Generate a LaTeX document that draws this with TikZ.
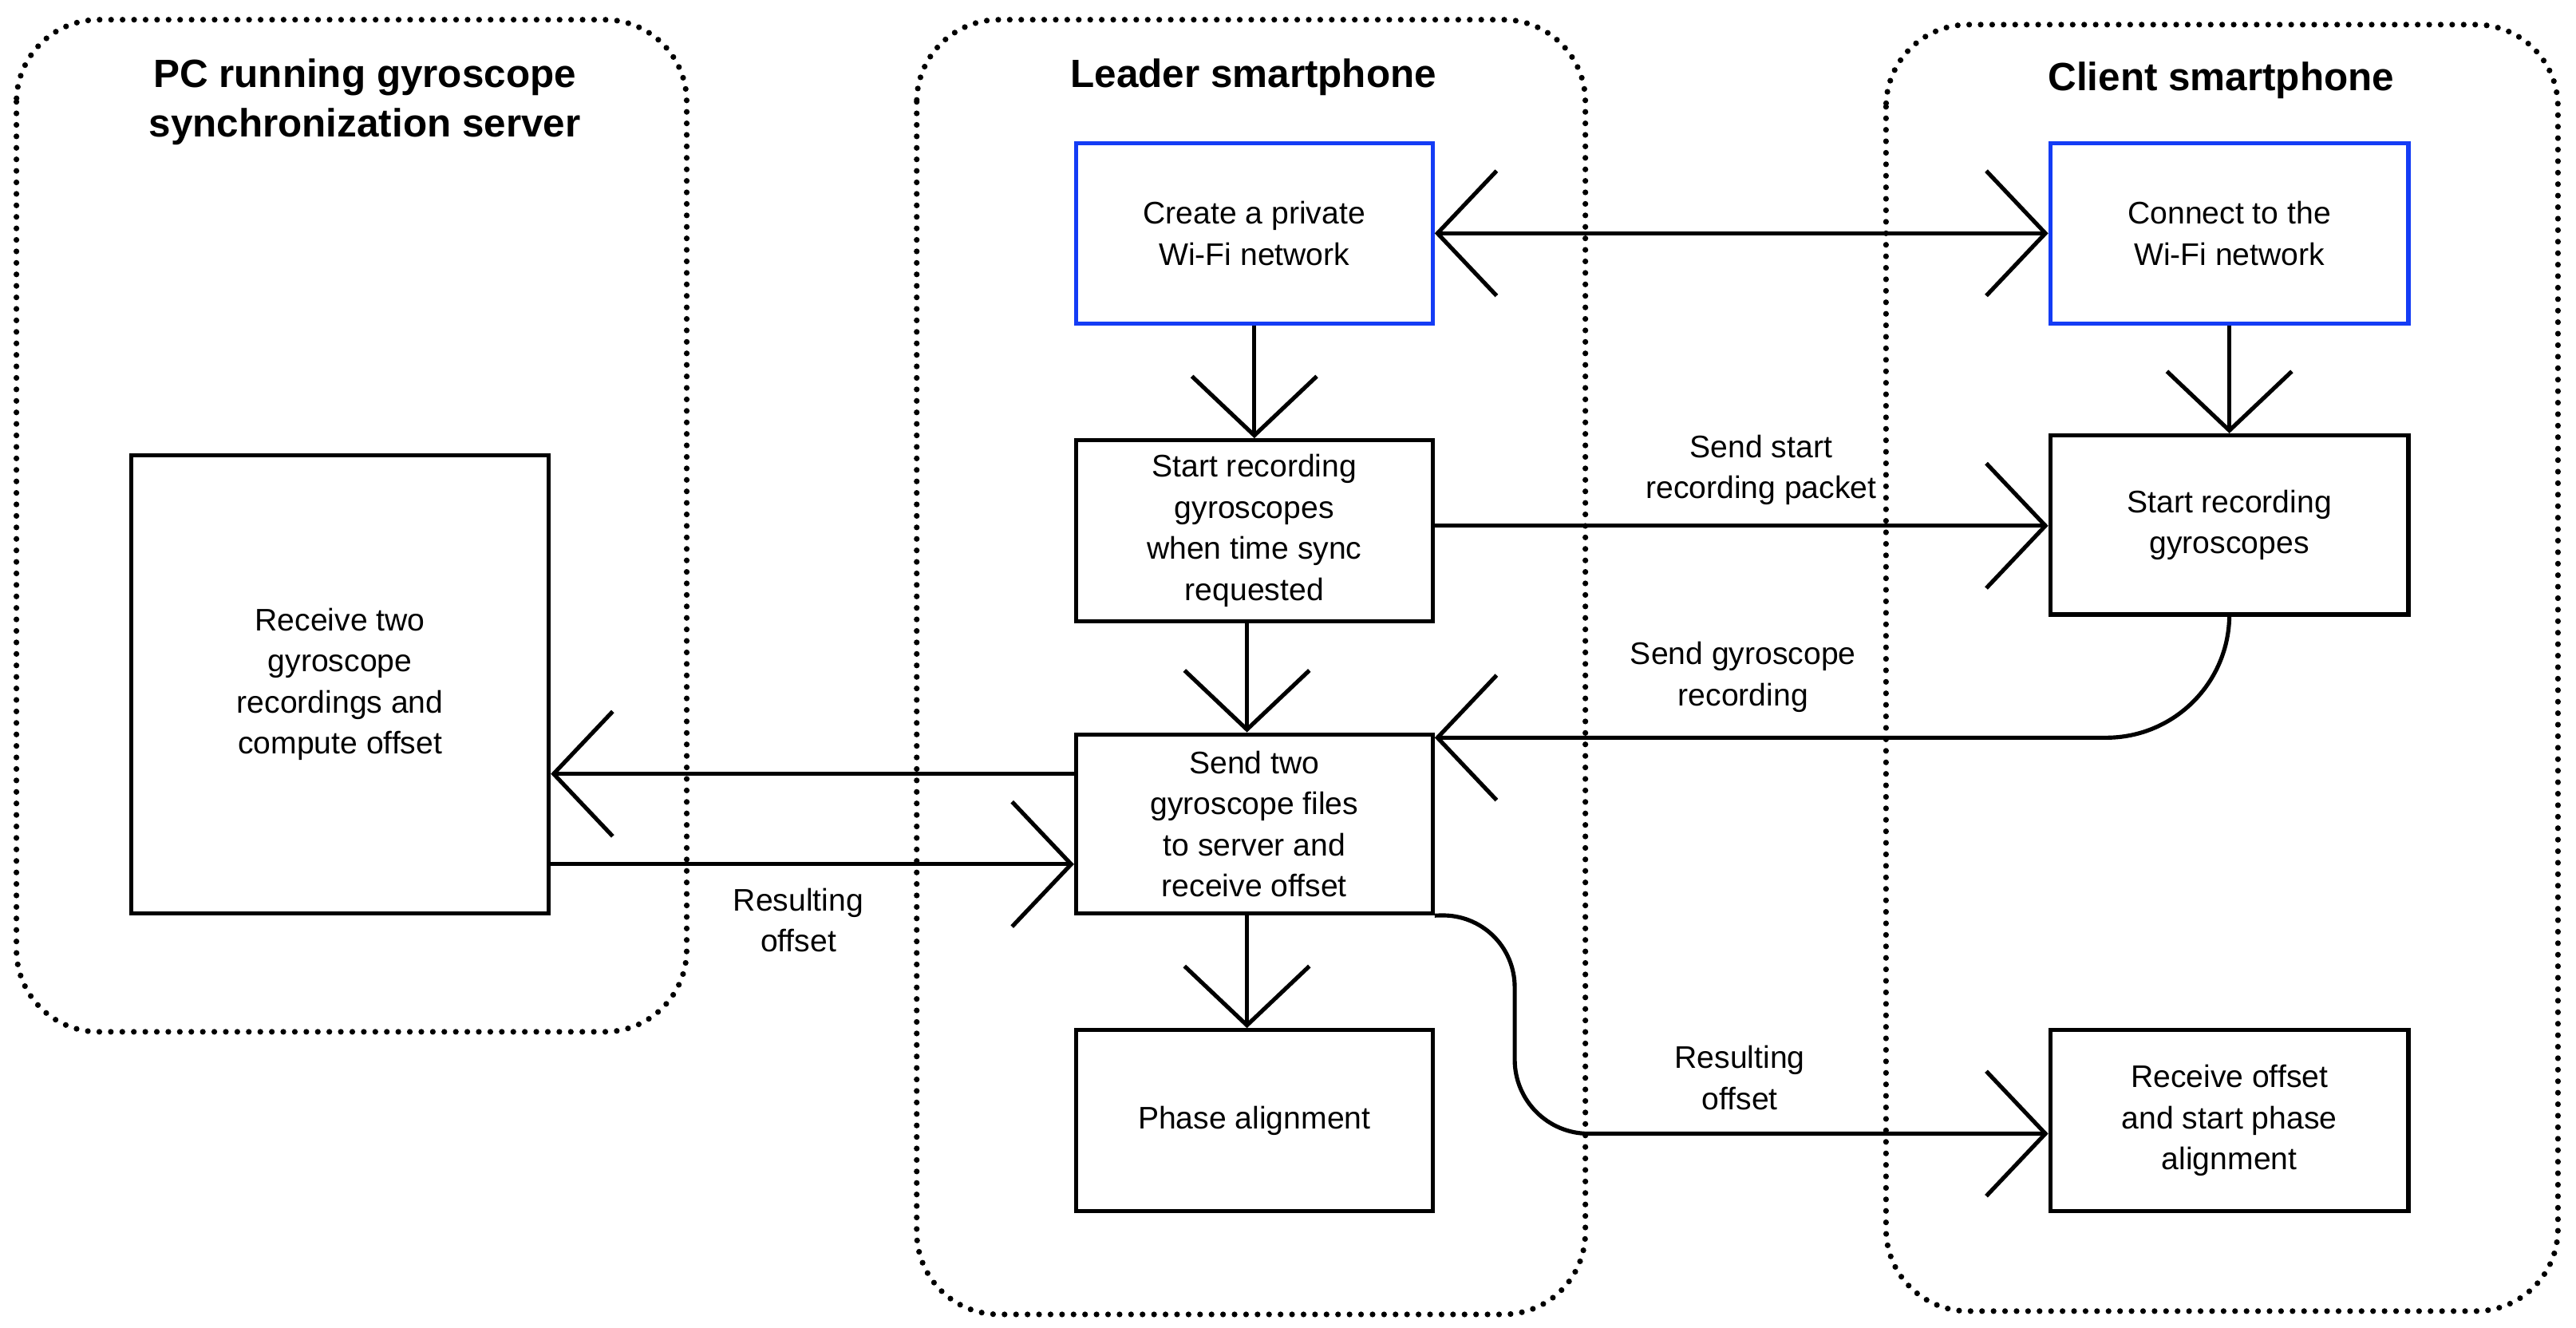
\documentclass[tikz,border=0pt]{standalone}
\usepackage{fontspec}
\setmainfont{Liberation Sans}
\usetikzlibrary{arrows.meta}
\begin{document}
\begin{tikzpicture}[x=1pt,y=-1pt,
  cont/.style={draw, line width=3.5pt, line cap=round, dash pattern=on 0pt off 7pt, rounded corners=50pt},
  box/.style={draw, line width=2.5pt, align=center, font=\fontsize{19}{25}\selectfont},
  blue box/.style={box, draw={rgb,255:red,20;green,60;blue,245}},
  title/.style={font=\fontsize{24}{30}\selectfont\bfseries, align=center},
  lab/.style={font=\fontsize{19}{25}\selectfont, align=center},
  conn/.style={line width=2.5pt, -{Straight Barb[length=36pt,width=76pt,line width=2.5pt]}},
  dconn/.style={line width=2.5pt, {Straight Barb[length=36pt,width=76pt,line width=2.5pt]}-{Straight Barb[length=36pt,width=76pt,line width=2.5pt]}}]
\useasboundingbox (0,0) rectangle (1568,808);
\draw[cont] (10,12) rectangle (418,628);
\draw[cont] (558,12) rectangle (965,800);
\draw[cont] (1148,15) rectangle (1557,798);
\node[title] (t1) at (222,62) {PC running gyroscope\\synchronization server};
\node[title] (t2) at (763,47) {Leader smartphone};
\node[title] (t3) at (1352,49) {Client smartphone};

\node[blue box, minimum width=217pt, minimum height=110pt] (wifi) at (763.5,142) {Create a private\\Wi-Fi network};
\node[blue box, minimum width=218pt, minimum height=110pt] (con) at (1357,142) {Connect to the\\Wi-Fi network};
\node[box, minimum width=217pt, minimum height=110pt] (srg) at (763.5,323) {Start recording\\gyroscopes\\when time sync\\requested};
\node[box, minimum width=218pt, minimum height=109pt] (csrg) at (1357,319.5) {Start recording\\gyroscopes};
\node[box, minimum width=217pt, minimum height=109pt] (send) at (763.5,501.5) {Send two\\gyroscope files\\to server and\\receive offset};
\node[box, minimum width=254pt, minimum height=279pt] (pc) at (207,416.5) {Receive two\\gyroscope\\recordings and\\compute offset};
\node[box, minimum width=217pt, minimum height=110pt] (ph) at (763.5,682) {Phase alignment};
\node[box, minimum width=218pt, minimum height=110pt] (rc) at (1357,682) {Receive offset\\and start phase\\alignment};

\draw[dconn] (wifi.east) -- (con.west);
\draw[conn] (wifi.south) -- (srg.north);
\draw[conn] (con.south) -- (csrg.north);
\draw[conn] (srg.east |- 0,320) -- (csrg.west |- 0,320);
\node[lab] (l1) at (1072,286) {Send start\\recording packet};
\draw[conn] (srg.south -| 759,0) -- (send.north -| 759,0);
\draw[conn, rounded corners=75pt] (csrg.south) -- (1357,449) -- (send.east |- 0,449);
\node[lab] (l2) at (1061,412) {Send gyroscope\\recording};
\draw[conn] (send.west |- 0,471) -- (pc.east |- 0,471);
\draw[conn] (pc.east |- 0,526) -- (send.west |- 0,526);
\node[lab] (l3) at (486,560) {Resulting\\offset};
\draw[conn] (send.south -| 759,0) -- (ph.north -| 759,0);
\draw[conn, rounded corners=45pt] (send.south east) -- (922,556) -- (922,690) -- (rc.west |- 0,690);
\node[lab] (l4) at (1059,656) {Resulting\\offset};
\end{tikzpicture}
\end{document}
